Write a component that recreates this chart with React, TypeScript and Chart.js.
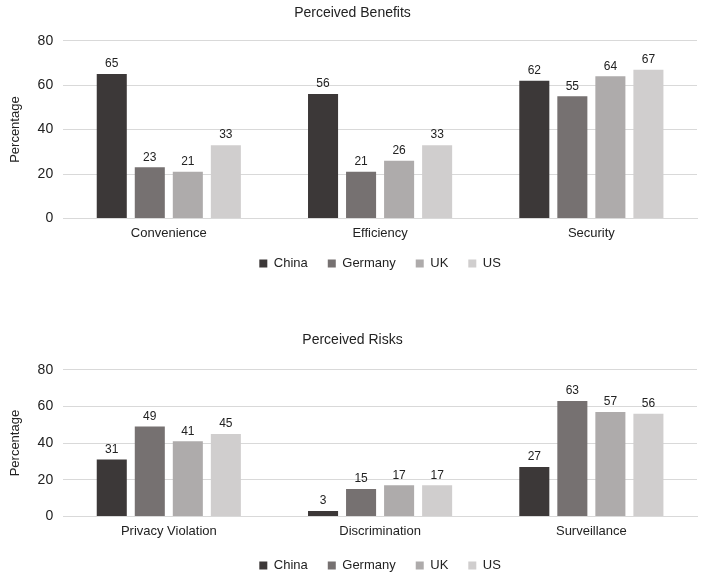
import React, { useEffect, useRef } from "react";
import { Chart, registerables } from "chart.js";

Chart.register(...registerables);

const countries = ["China", "Germany", "UK", "US"];
const countryColors = ["#3c3838", "#767171", "#aeabab", "#d0cece"];

const benefitCategories = ["Convenience", "Efficiency", "Security"];
const benefitChina = [65, 56, 62];
const benefitGermany = [23, 21, 55];
const benefitUK = [21, 26, 64];
const benefitUS = [33, 33, 67];

const riskCategories = ["Privacy Violation", "Discrimination", "Surveillance"];
const riskChina = [31, 3, 27];
const riskGermany = [49, 15, 63];
const riskUK = [41, 17, 57];
const riskUS = [45, 17, 56];

const yMin = 0;
const yMax = 80;
const yStep = 20;

const FONT = "'Liberation Sans', Arial, sans-serif";

const valueLabels = {
  id: "valueLabels",
  afterDatasetsDraw(chart: any) {
    const ctx = chart.ctx;
    ctx.save();
    ctx.font = `12px ${FONT}`;
    ctx.fillStyle = "#222";
    ctx.textAlign = "center";
    ctx.textBaseline = "bottom";
    chart.data.datasets.forEach((ds: any, i: number) => {
      const meta = chart.getDatasetMeta(i);
      meta.data.forEach((el: any, j: number) => {
        ctx.fillText(String(ds.data[j]), el.x, el.y - 4);
      });
    });
    ctx.restore();
  },
};

function makeLegendLift(lift: number) {
  return {
    id: "legendLift",
    afterLayout(chart: any) {
      const lg = chart.legend;
      if (lg) {
        lg.top -= lift;
        lg.bottom -= lift;
      }
    },
  };
}

function Panel(props: {
  title: string;
  categories: string[];
  series: number[][];
  height: number;
  top: number;
  titlePadTop: number;
  titlePadBottom: number;
  legendLift: number;
}) {
  const ref = useRef<HTMLCanvasElement | null>(null);
  useEffect(() => {
    if (!ref.current) return;
    const chart = new Chart(ref.current, {
      type: "bar",
      data: {
        labels: props.categories,
        datasets: countries.map((c, i) => ({
          label: c,
          data: props.series[i],
          backgroundColor: countryColors[i],
          borderWidth: 0,
          categoryPercentage: 0.72,
          barPercentage: 0.79,
        })),
      },
      options: {
        responsive: false,
        animation: false,
        layout: { padding: { left: 8, right: 9, top: 0, bottom: 0 } },
        plugins: {
          title: {
            display: true,
            text: props.title,
            color: "#222",
            font: { family: FONT, size: 14, weight: "normal" },
            padding: { top: props.titlePadTop, bottom: props.titlePadBottom },
          },
          legend: {
            position: "bottom",
            fullSize: false,
            labels: {
              color: "#222",
              font: { family: FONT, size: 13 },
              boxWidth: 8,
              boxHeight: 8,
              padding: 20,
            },
          },
          tooltip: { enabled: false },
        },
        scales: {
          x: {
            grid: { display: false, drawTicks: false },
            border: { color: "#d9d9d9" },
            ticks: { color: "#222", font: { family: FONT, size: 13 }, padding: 7 },
          },
          y: {
            min: yMin,
            max: yMax,
            grid: { color: "#d9d9d9", drawTicks: false },
            border: { display: false },
            ticks: { stepSize: yStep, color: "#222", font: { family: FONT, size: 14 }, padding: 10 },
            title: {
              display: true,
              text: "Percentage",
              color: "#222",
              font: { family: FONT, size: 13 },
              padding: { top: 0, bottom: 4 },
            },
          },
        },
      },
      plugins: [valueLabels, makeLegendLift(props.legendLift)],
    });
    return () => chart.destroy();
  }, []);
  return (
    <div style={{ position: "absolute", left: 0, top: props.top, width: 706, height: props.height }}>
      <canvas ref={ref} width={706} height={props.height} style={{ display: "block" }} />
    </div>
  );
}

export default function App() {
  return (
    <div style={{ position: "absolute", left: 0, top: 0, width: 706, height: 576, background: "#fff", overflow: "hidden" }}>
      <Panel
        title="Perceived Benefits"
        categories={benefitCategories}
        series={[benefitChina, benefitGermany, benefitUK, benefitUS]}
        height={291}
        top={0}
        titlePadTop={5}
        titlePadBottom={19}
        legendLift={11}
      />
      <Panel
        title="Perceived Risks"
        categories={riskCategories}
        series={[riskChina, riskGermany, riskUK, riskUS]}
        height={262}
        top={327}
        titlePadTop={5}
        titlePadBottom={21}
        legendLift={7}
      />
    </div>
  );
}
